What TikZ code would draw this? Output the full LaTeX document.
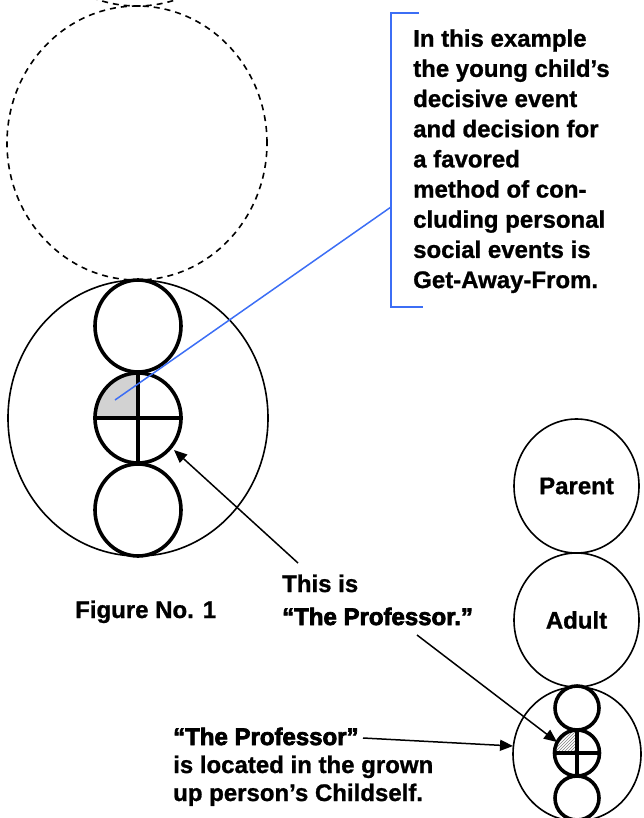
\documentclass[tikz,border=0pt]{standalone}
\usepackage{fontspec}
\setmainfont{Liberation Sans}[BoldFeatures={FakeBold=1}]
\newfontfamily\heavyfont{Liberation Sans Bold}[FakeBold=3]
\usetikzlibrary{arrows.meta,patterns,shapes.geometric}
\definecolor{callblue}{RGB}{60,110,245}
\begin{document}
\begin{tikzpicture}[x=1pt,y=-1pt,
  thinring/.style={draw, ellipse, line width=1.6pt, inner sep=0pt},
  thickring/.style={draw, ellipse, line width=3.6pt, inner sep=0pt},
  dashring/.style={draw, line width=1.6pt, dash pattern=on 6pt off 5pt},
  pointer/.style={line width=1.5pt, -{Triangle[length=13pt,width=11pt]}},
  crossline/.style={line width=3.4pt},
  txt/.style={font=\bfseries\fontsize{24}{30}\selectfont, inner sep=0pt, anchor=base west},
  heavy/.style={font=\heavyfont\fontsize{24}{30}\selectfont, inner sep=0pt, anchor=base west},
  bluepen/.style={draw=callblue, line width=1.5pt}
]
\useasboundingbox (0,0) rectangle (644,818);
\begin{scope}
\clip (0,0) rectangle (644,818);
% dashed circles above
\draw[dashring] (137,-131) ellipse [x radius=130pt, y radius=137pt];
\draw[dashring] (137,143) ellipse [x radius=130pt, y radius=137pt];
% big figure
\node[thinring, minimum width=260pt, minimum height=276pt] (big) at (138,418) {};
\node[thickring, minimum width=86pt, minimum height=92pt] (ptop) at (138,326) {};
\begin{scope}
\clip (138,418) ellipse [x radius=43pt, y radius=45pt];
\fill[gray!35] (94,370) rectangle (138,418);
\end{scope}
\node[thickring, minimum width=86pt, minimum height=90pt] (pmid) at (138,418) {};
\node[thickring, minimum width=86pt, minimum height=92pt] (pbot) at (138,510) {};
\draw[crossline] (pmid.west) -- (pmid.east);
\draw[crossline] (pmid.north) -- (pmid.south);
% callout
\coordinate (gspot) at (115,400);
\coordinate (brk) at (391,207);
\coordinate (brkT) at (419,13);
\coordinate (brkTL) at (391,13);
\coordinate (brkBL) at (391,307);
\coordinate (brkB) at (423,307);
\draw[bluepen] (gspot) -- (brk);
\draw[bluepen] (brkT) -- (brkTL) -- (brkBL) -- (brkB);
\foreach \i/\t in {0/{In this example},1/{the young child’s},2/{decisive event},3/{and decision for},4/{a favored},5/{method of con-},6/{cluding personal},7/{social events is},8/{Get-Away-From.}}
  \node[txt] (line\i) at (413,46.7+30.17*\i) {\t};
% right figure
\node[thinring, minimum width=125pt, minimum height=134pt, font=\bfseries\fontsize{24}{30}\selectfont] (parent) at (576.5,486) {Parent};
\node[thinring, minimum width=125pt, minimum height=134pt, font=\bfseries\fontsize{24}{30}\selectfont] (adult) at (576.5,620) {Adult};
\node[thinring, minimum width=128pt, minimum height=134pt] (child) at (577,754) {};
\node[thickring, minimum width=44pt, minimum height=44pt] (stop) at (577,708) {};
\begin{scope}
\clip (577,753) ellipse [x radius=22.5pt, y radius=23pt];
\fill[pattern=north east lines, pattern color=gray] (554,729) rectangle (578,753);
\end{scope}
\node[thickring, minimum width=45pt, minimum height=46pt] (smid) at (577,753) {};
\node[thickring, minimum width=44pt, minimum height=44pt] (sbot) at (577,798) {};
\draw[crossline] (smid.west) -- (smid.east);
\draw[crossline] (smid.north) -- (smid.south);
\end{scope}
% labels
\node[txt] (fig) at (75,618) {Figure No. 1};
\node[txt] (thisis) at (282,592) {This is};
\node[heavy] (prof1) at (282,625) {“The Professor.”};
\node[heavy] (prof2) at (173,745) {“The Professor”};
\node[txt] (loc1) at (173,773) {is located in the grown};
\node[txt] (loc2) at (173,801) {up person’s Childself.};
% arrows
\coordinate (a1s) at (298,563);
\coordinate (a1e) at (174,450);
\coordinate (a2s) at (417,635);
\coordinate (a2e) at (557,742);
\coordinate (a3s) at (363,738);
\coordinate (a3e) at (513,746);
\draw[pointer] (a1s) -- (a1e);
\draw[pointer] (a2s) -- (a2e);
\draw[pointer] (a3s) -- (a3e);
\end{tikzpicture}
\end{document}
